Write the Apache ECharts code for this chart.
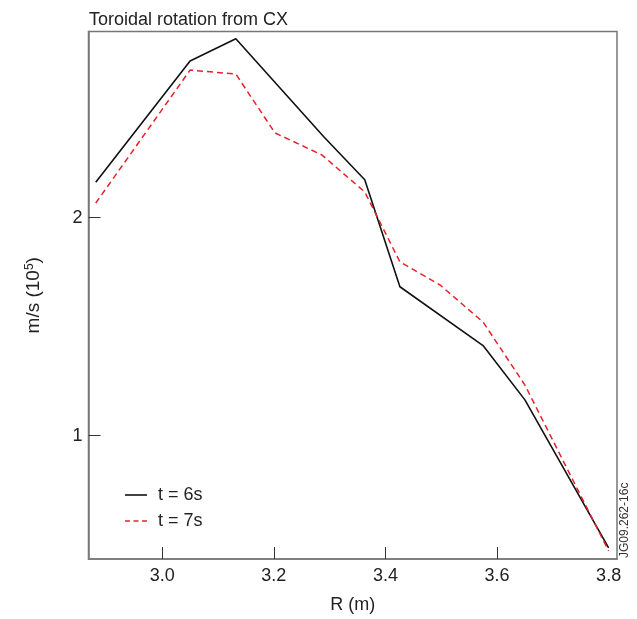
<!DOCTYPE html>
<html>
<head>
<meta charset="utf-8">
<script src="https://cdn.jsdelivr.net/npm/echarts@6/dist/echarts.min.js"></script>
<style>html,body{margin:0;padding:0;background:#fff}#c{width:637px;height:619px}</style>
</head>
<body>
<div id="c"></div>
<script>
// Data
const r6 = [2.881, 3.05, 3.132, 3.29, 3.363, 3.426, 3.575, 3.65, 3.80];
const v6 = [2.162, 2.719, 2.821, 2.37, 2.174, 1.683, 1.413, 1.164, 0.485];
const r7 = [2.881, 3.05, 3.132, 3.202, 3.286, 3.363, 3.426, 3.498, 3.575, 3.65, 3.80];
const v7 = [2.067, 2.677, 2.659, 2.389, 2.288, 2.118, 1.797, 1.691, 1.521, 1.232, 0.471];
const seriesNames = ['t = 6s', 't = 7s'];
const xTicks = [3.0, 3.2, 3.4, 3.6, 3.8];
const yTicks = [1, 2];

const FONT = 'Liberation Sans, Arial, sans-serif';
const BLACK = '#111';
const RED = '#e8202a';
const pair = (xs, ys) => xs.map((x, i) => [x, ys[i]]);

const chart = echarts.init(document.getElementById('c'));
chart.setOption({
  animation: false,
  backgroundColor: '#fff',
  title: {
    text: 'Toroidal rotation from CX',
    left: 84, top: 6,
    textStyle: {fontFamily: FONT, fontSize: 18, fontWeight: 'normal', color: '#222'}
  },
  grid: {left: 88.5, right: 20, top: 31.5, bottom: 60, show: true, borderColor: '#777', borderWidth: 1.5, backgroundColor: 'transparent'},
  xAxis: {
    type: 'value', min: 2.868, max: 3.815,
    name: 'R (m)', nameLocation: 'middle', nameGap: 37,
    nameTextStyle: {fontFamily: FONT, fontSize: 18, color: '#222'},
    axisLine: {show: true, lineStyle: {color: '#777', width: 1.5}},
    axisTick: {show: true, inside: true, length: 12, lineStyle: {color: '#333', width: 1}, customValues: xTicks.slice(0, 4)},
    axisLabel: {fontFamily: FONT, fontSize: 18, color: '#222', margin: 8, customValues: xTicks, formatter: v => v.toFixed(1)},
    splitLine: {show: false}
  },
  yAxis: {
    type: 'value', min: 0.434, max: 2.854,
    name: '{a|m/s (10}{b|5}{a|)}', nameLocation: 'middle', nameGap: 45, nameRotate: 90,
    nameTextStyle: {fontFamily: FONT, color: '#222', rich: {a: {fontFamily: FONT, fontSize: 19, color: '#222'}, b: {fontFamily: FONT, fontSize: 12, color: '#222', verticalAlign: 'top', padding: [0, 0, 8, 0]}}},
    axisLine: {show: true, lineStyle: {color: '#777', width: 1.5}},
    axisTick: {show: true, inside: true, length: 12, lineStyle: {color: '#333', width: 1}, customValues: yTicks},
    axisLabel: {fontFamily: FONT, fontSize: 18, color: '#222', margin: 6, customValues: yTicks, formatter: v => String(v)},
    splitLine: {show: false}
  },
  graphic: [
    {type: 'text', x: 625, y: 558, rotation: Math.PI / 2,
     style: {text: 'JG09.262-16c', font: '12px ' + FONT, fill: '#333', textAlign: 'left', textVerticalAlign: 'middle'}},
    {type: 'line', shape: {x1: 125, y1: 495, x2: 147, y2: 495}, style: {stroke: BLACK, lineWidth: 1.6}},
    {type: 'text', x: 158, y: 495, style: {text: seriesNames[0], font: '18px ' + FONT, fill: '#222', textVerticalAlign: 'middle'}},
    {type: 'line', shape: {x1: 125, y1: 521, x2: 147, y2: 521}, style: {stroke: RED, lineWidth: 1.6, lineDash: [5, 3.5]}},
    {type: 'text', x: 158, y: 521, style: {text: seriesNames[1], font: '18px ' + FONT, fill: '#222', textVerticalAlign: 'middle'}}
  ],
  series: [
    {name: seriesNames[0], type: 'line', data: pair(r6, v6), symbol: 'none', lineStyle: {color: BLACK, width: 1.6}},
    {name: seriesNames[1], type: 'line', data: pair(r7, v7), symbol: 'none', lineStyle: {color: RED, width: 1.5, type: [6, 4]}}
  ]
});
</script>
</body>
</html>
